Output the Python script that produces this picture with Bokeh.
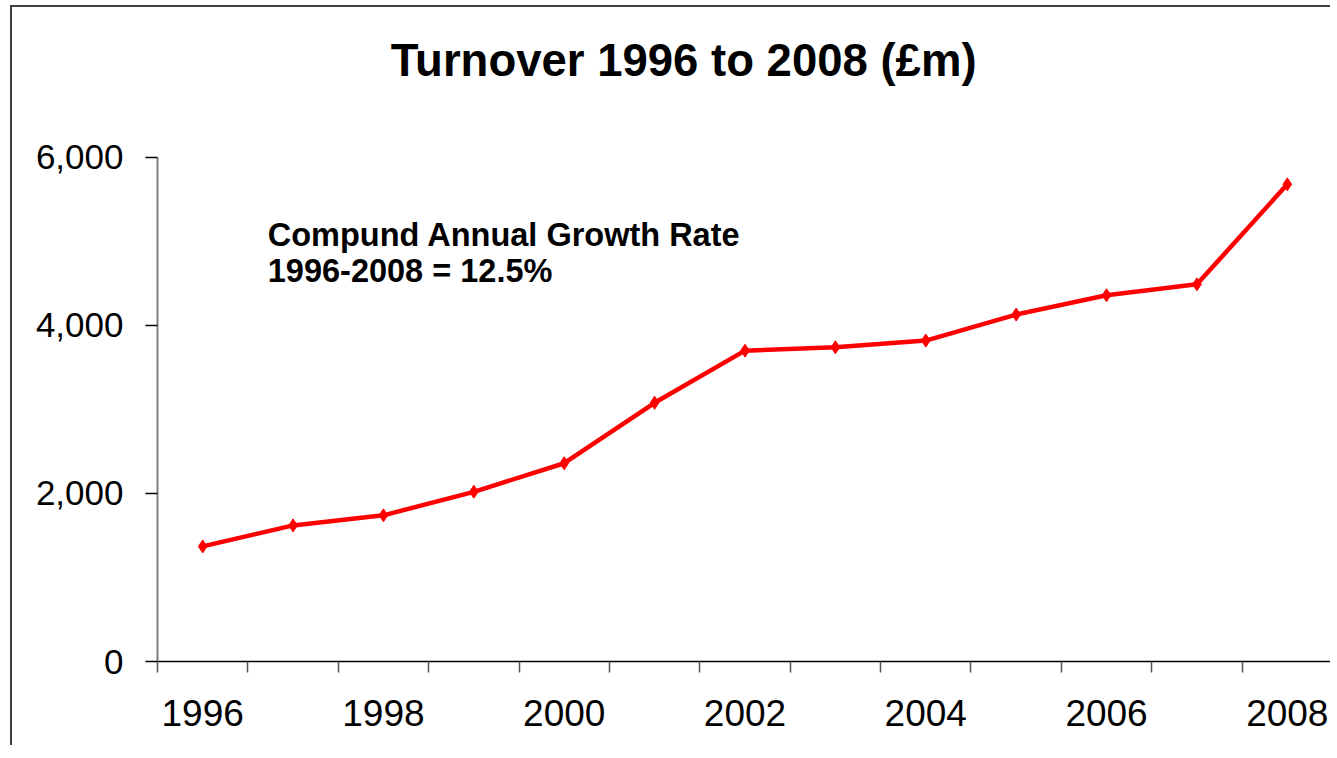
from bokeh.plotting import figure
from bokeh.models import Range1d, FixedTicker, Label, NumeralTickFormatter, ColumnDataSource
from bokeh.embed import file_html
from bokeh.resources import INLINE

years = [1996, 1997, 1998, 1999, 2000, 2001, 2002, 2003, 2004, 2005, 2006, 2007, 2008]
turnover = [1370, 1620, 1740, 2020, 2360, 3080, 3700, 3740, 3820, 4130, 4360, 4490, 5680]
label_years = [1996, 1998, 2000, 2002, 2004, 2006, 2008]
boundaries = [y - 0.5 for y in years]
y_ticks = [0, 2000, 4000, 6000]
title_text = "Turnover 1996 to 2008 (£m)"
note_lines = ["Compund Annual Growth Rate", "1996-2008 = 12.5%"]

FONT = "Liberation Sans"

# frame extends up to the top of the figure so that the title annotation is not clipped;
# the y axis itself is bounded to 0..6000
p = figure(width=1320, height=740, output_backend="svg", toolbar_location=None,
           x_range=Range1d(1995.5, 2008.5), y_range=Range1d(0, 7785),
           min_border_left=145, min_border_top=0, min_border_bottom=86, min_border_right=0)
p.styles = {"border-left": "2px solid #404040", "border-top": "2px solid #404040",
            "margin-left": "10px", "margin-top": "5px"}

p.grid.visible = False
p.outline_line_color = None

p.add_layout(Label(x=1998.08, y=7155, text=title_text, text_font=FONT, text_font_size="45.5px",
                   text_font_style="bold", text_color="black", text_baseline="middle",
                   text_align="left"))

# x axis
xa = p.xaxis[0]
xa.ticker = FixedTicker(ticks=label_years, minor_ticks=boundaries)
xa.major_tick_line_color = None
xa.major_tick_out = 0
xa.major_tick_in = 0
xa.minor_tick_out = 11
xa.minor_tick_in = 0
xa.minor_tick_line_color = "#555555"
xa.minor_tick_line_width = 1.5
xa.axis_line_color = "black"
xa.axis_line_width = 1.5
xa.major_label_text_font = FONT
xa.major_label_text_font_size = "37px"
xa.major_label_text_color = "black"
xa.major_label_standoff = 27

# y axis
ya = p.yaxis[0]
ya.bounds = (0, 6000)
ya.ticker = FixedTicker(ticks=y_ticks, minor_ticks=[])
ya.formatter = NumeralTickFormatter(format="0,0")
ya.major_tick_out = 12
ya.major_tick_in = 0
ya.major_tick_line_color = "black"
ya.major_tick_line_width = 1.5
ya.minor_tick_line_color = None
ya.axis_line_color = "#808080"
ya.axis_line_width = 2
ya.major_label_text_font = FONT
ya.major_label_text_font_size = "35px"
ya.major_label_text_color = "black"
ya.major_label_standoff = 22

src = ColumnDataSource(dict(x=years, y=turnover))
p.line("x", "y", source=src, line_color="#FF0000", line_width=4.5)
p.scatter("x", "y", source=src, marker="diamond", size=13, fill_color="#FF0000", line_color="#FF0000")

for txt, yv in zip(note_lines, [5080, 4650]):
    p.add_layout(Label(x=1996.72, y=yv, text=txt, text_font=FONT, text_font_size="32.5px",
                       text_font_style="bold", text_color="black", text_baseline="middle",
                       text_align="left"))

open("out.html", "w").write(file_html(p, INLINE))
